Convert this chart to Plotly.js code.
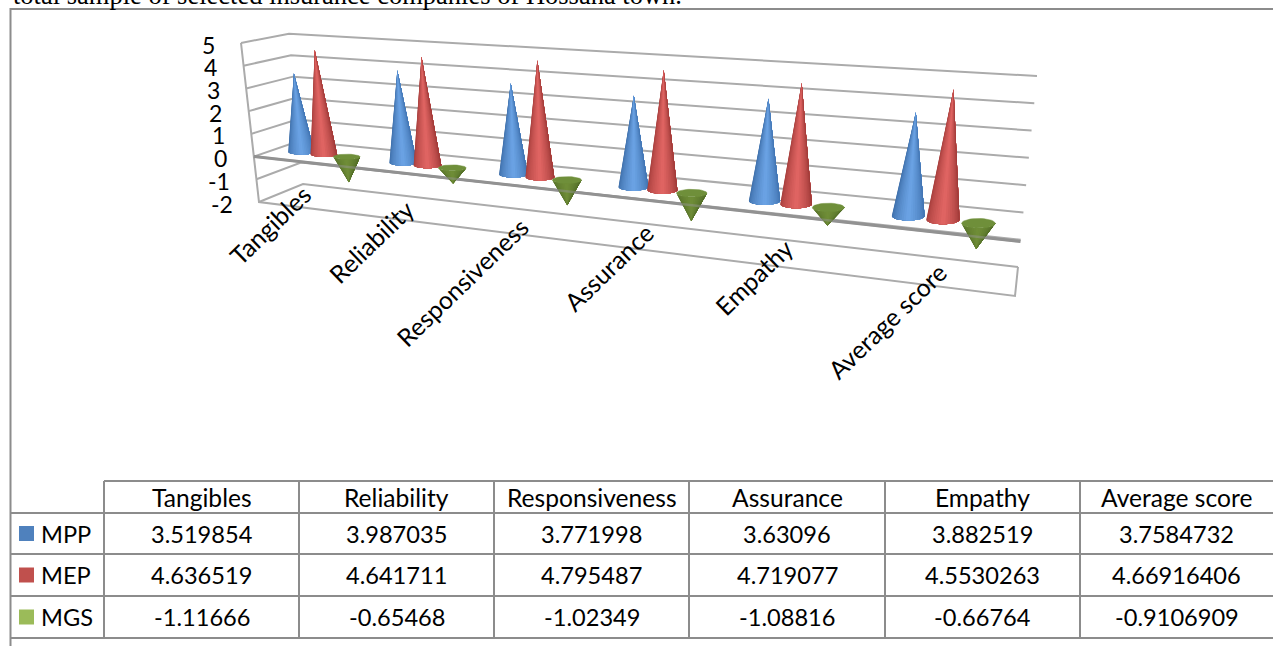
<!DOCTYPE html>
<html><head><meta charset="utf-8">
<script src="https://cdn.plot.ly/plotly-3.0.1.min.js"></script>
<style>html,body{margin:0;padding:0;background:#fff;overflow:hidden}</style>
</head><body><div id="chart" style="width:1273px;height:646px"></div>
<script>
// ---- data ----
const categories = ["Tangibles","Reliability","Responsiveness","Assurance","Empathy","Average score"];
const seriesNames = ["MPP","MEP","MGS"];
const MPP = [3.519854,3.987035,3.771998,3.63096,3.882519,3.7584732];
const MEP = [4.636519,4.641711,4.795487,4.719077,4.5530263,4.66916406];
const MGS = [-1.11666,-0.65468,-1.02349,-1.08816,-0.66764,-0.9106909];
const yTicks = [5,4,3,2,1,0,-1,-2];
const captionText = "total sample of selected insurance companies of Hossana town.";

// ---- style ----
const swatchColors = ["#4F81BD","#C0504D","#9BBB59"];
const coneEdgeL = [[58,106,164],[160,58,56],[84,110,40]];
const coneMid   = [[108,164,230],[226,102,100],[112,142,56]];
const coneEdgeR = [[60,110,170],[150,52,50],[74,100,36]];
const capColor = "#6F8F3A";
const gridColor = "#ABABAB", axisColor = "#8E8E8E", tableColor = "#8C8C8C";
const textFont = "Lato, Carlito, sans-serif";

// ---- 3D-looking projection: u along categories, w depth (0 front, 1 back), v value ----
const K = 1.3, LABEL_K = 1.35;
const persp = (u,k) => u/(u + (k||K)*(1-u));
const lerp = (a,b,t) => a+(b-a)*t;
const corners = {fl5:[241,43],fl2:[259,202],fr5:[1034,105.5],fr2:[1015,296],
                 bl5:[289,33.7],bl2:[303,184],br5:[1037,76],br2:[1018,267]};
function project(u,w,v,k){
  const s = persp(u,k), h = (5-v)/7, c = corners;
  const pt = d => {
    const top = lerp(lerp(c.fl5[d],c.fr5[d],s), lerp(c.bl5[d],c.br5[d],s), w);
    const bot = lerp(lerp(c.fl2[d],c.fr2[d],s), lerp(c.bl2[d],c.br2[d],s), w);
    return lerp(top,bot,h);
  };
  return [pt(0),pt(1)];
}

const traces = [];
function polyline(segs,color,width){
  const x=[],y=[];
  segs.forEach(seg=>{seg.forEach(p=>{x.push(p[0]);y.push(p[1]);});x.push(null);y.push(null);});
  traces.push({type:"scatter",mode:"lines",x,y,line:{color,width},hoverinfo:"skip",showlegend:false});
}
// walls and floor
const wallSegs = yTicks.map(v=>[project(0,0,v),project(0,1,v),project(1,1,v)]);
wallSegs.push([project(0,0,5),project(0,0,-2),project(1,0,-2),project(1,1,-2)]);
polyline(wallSegs,gridColor,2);
polyline([[project(0,0,0),project(1,0,0)]],axisColor,3);

// cones: each band is painted from its own angle to the right edge, so no seams show
const allSeries = [MPP,MEP,MGS];
const BANDS = 22, ARC_STEP = 2;
const depth = 0.47, seriesGap = 0.038;
allSeries.forEach((vals,si)=>{
  const bx = Array.from({length:BANDS},()=>[]), by = Array.from({length:BANDS},()=>[]);
  const capX=[], capY=[];
  vals.forEach((v,ci)=>{
    const u = (ci+0.5)/categories.length + (si-1)*seriesGap;
    const base = project(u,depth,0), raw = project(u,depth,v), s = persp(u);
    const stretch = lerp(1,1.05,s);
    const tip = [base[0]+(raw[0]-base[0])*stretch, base[1]+(raw[1]-base[1])*stretch];
    const rx = lerp(13,17,s), ry = lerp(2.4,5,s);
    for(let b=0;b<BANDS;b++){
      const xs=[tip[0]], ys=[tip[1]];
      for(let a=b*ARC_STEP;a<=BANDS*ARC_STEP;a++){
        const th = Math.PI*(1-a/(BANDS*ARC_STEP));
        xs.push(base[0]+rx*Math.cos(th)); ys.push(base[1]+ry*Math.sin(th));
      }
      xs.push(tip[0],null); ys.push(tip[1],null);
      bx[b].push(...xs); by[b].push(...ys);
    }
    if(v<0){
      for(let a=0;a<=36;a++){const th=2*Math.PI*a/36;
        capX.push(base[0]+rx*Math.cos(th)); capY.push(base[1]+ry*Math.sin(th));}
      capX.push(null); capY.push(null);
    }
  });
  for(let b=0;b<BANDS;b++){
    const t = (b+0.5)/BANDS, peak=0.5;
    const f = t<peak ? t/peak : (1-t)/(1-peak);
    const edge = t<peak ? coneEdgeL[si] : coneEdgeR[si];
    const c = edge.map((e,i)=>Math.round(lerp(e,coneMid[si][i],f)));
    const col = `rgb(${c.join(",")})`;
    traces.push({type:"scatter",mode:"none",x:bx[b],y:by[b],fill:"toself",fillcolor:col,
      hoverinfo:"skip",showlegend:false});
  }
  if(capX.length) traces.push({type:"scatter",mode:"lines",x:capX,y:capY,fill:"toself",fillcolor:capColor,
      line:{color:capColor,width:0.5},hoverinfo:"skip",showlegend:false});
});
// the axis shows faintly through the inverted cones
polyline([[project(0,0,0),project(1,0,0)]],"rgba(150,150,150,0.45)",2.5);

// table grid
const colX = [104,299,494,689,885,1080,1273], rowY = [481,513,554,596,638], frameL = 10.5, frameT = 9;
const gridSegs = [
  [[frameL,646],[frameL,frameT],[1273,frameT]],
  [[colX[0],rowY[0]],[1273,rowY[0]]],
];
rowY.slice(1).forEach(y=>gridSegs.push([[frameL,y],[1273,y]]));
colX.slice(0,-1).forEach(x=>gridSegs.push([[x,rowY[0]],[x,rowY[4]]]));
polyline(gridSegs,tableColor,2);

// legend swatches inside table
const rowMid = i => (rowY[i]+rowY[i+1])/2;
traces.push({type:"scatter",mode:"markers",x:seriesNames.map(()=>26.5),y:seriesNames.map((n,i)=>rowMid(i+1)),
  marker:{symbol:"square",size:15,color:swatchColors,line:{width:0}},hoverinfo:"skip",showlegend:false});

const WORD_SIZE = 24.6, NUM_SIZE = 23.6, AXIS_SIZE = 23;
const ann = [];
const note = (x,y,text,size,extra)=>ann.push(Object.assign({x,y,text:text,xref:"x",yref:"y",showarrow:false,
   font:{family:textFont,size,color:"#000"},xanchor:"center",yanchor:"middle"},extra||{}));
// caption, cut by the top of the picture
note(11,0,captionText,26.5,{xanchor:"left",yshift:5,font:{family:"Liberation Serif, serif",size:26.5,color:"#000"}});
// value axis labels
yTicks.forEach(v=>{const p=project(0,0,v);
  note(p[0]-24.5,p[1]+1.5,String(v),AXIS_SIZE,{xanchor:"right"});});
// category labels
categories.forEach((c,i)=>{
  const u=(i+0.5)/categories.length, p=project(u,0,-2,LABEL_K), s=persp(u,LABEL_K);
  const lift = lerp(16,25,s)+14-Math.max(0,c.length-9)*1.7;
  note(p[0]+lerp(11,25,s),p[1]-lift,c,24.8,{textangle:-44,xanchor:"right",yanchor:"top"});
});
// table text
categories.forEach((c,i)=>{
  const cx=(colX[i]+colX[i+1])/2;
  note(cx,rowMid(0),c,WORD_SIZE);
  allSeries.forEach((vals,si)=>note(cx,rowMid(si+1),String(vals[i]),NUM_SIZE));
});
seriesNames.forEach((n,si)=>note(39,rowMid(si+1),n,NUM_SIZE,{xanchor:"left"}));

const layout = {width:1273,height:646,margin:{l:0,r:0,t:0,b:0},paper_bgcolor:"#fff",plot_bgcolor:"#fff",
  showlegend:false,
  xaxis:{range:[0,1273],visible:false,fixedrange:true},
  yaxis:{range:[646,0],visible:false,fixedrange:true},
  annotations:ann};
Plotly.newPlot("chart",traces,layout,{displayModeBar:false,staticPlot:true});
</script></body></html>
